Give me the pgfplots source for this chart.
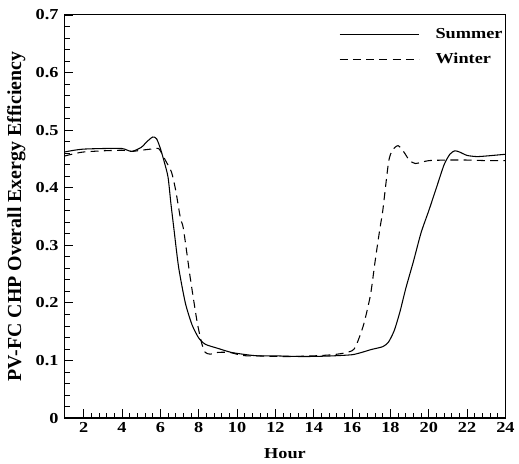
\documentclass[border=0pt]{standalone}
\usepackage{fontspec}
\setmainfont{Liberation Serif}
\newfontfamily\widefont[FakeStretch=1.2]{Liberation Serif Bold}
\usepackage{pgfplots}
\pgfplotsset{compat=1.18}

\pgfplotstableread{
h eff
1 0.462
1.5 0.465
2 0.467
3 0.468
4 0.468
4.5 0.463
5 0.470
5.3 0.480
5.6 0.488
5.8 0.485
6.0 0.468
6.2 0.445
6.4 0.418
6.55 0.372
6.7 0.330
6.95 0.262
7.3 0.200
7.65 0.162
8.0 0.139
8.35 0.128
9.0 0.121
9.7 0.114
10.5 0.110
11.1 0.108
12 0.108
13 0.107
14 0.107
15 0.108
16 0.110
16.5 0.114
17 0.119
17.6 0.124
17.9 0.132
18.2 0.152
18.5 0.185
18.8 0.225
19.2 0.272
19.6 0.322
20 0.360
20.4 0.400
20.8 0.440
21.1 0.458
21.35 0.464
21.6 0.462
22 0.456
22.5 0.454
23 0.455
24 0.458
}\summer

\pgfplotstableread{
h eff
1 0.455
1.5 0.459
2 0.462
3 0.464
4 0.465
4.5 0.463
5 0.465
5.5 0.467
5.9 0.468
6.1 0.458
6.27 0.447
6.58 0.427
6.8 0.395
7.05 0.346
7.2 0.329
7.56 0.243
7.9 0.170
8.05 0.145
8.17 0.128
8.34 0.114
8.6 0.111
9.0 0.114
9.6 0.114
10.1 0.110
10.5 0.108
11 0.108
12 0.107
13 0.107
14 0.108
15 0.110
15.6 0.113
16 0.117
16.2 0.125
16.6 0.162
16.96 0.214
17.2 0.272
17.45 0.329
17.6 0.360
17.9 0.444
18.1 0.465
18.4 0.473
18.7 0.462
19.0 0.447
19.3 0.442
19.6 0.444
20 0.447
21 0.448
22 0.448
23 0.447
24 0.447
}\winter

\begin{document}
\begin{tikzpicture}
\begin{axis}[
    name=ax,
    width=333pt, height=304.5pt,
    scale only axis,
    xmin=1, xmax=24, ymin=0, ymax=0.7,
    xtick={2,4,...,24},
    xticklabels={2,4,6,8,10,12,14,16,18,20,22,24},
    ytick={0,0.1,0.2,0.3,0.4,0.5,0.6,0.7},
    yticklabels={0,0.1,0.2,0.3,0.4,0.5,0.6,0.7},
    minor x tick num=4,
    minor y tick num=4,
    tick align=inside,
    xtick pos=bottom, ytick pos=left,
    major tick length=6.5pt, minor tick length=4pt,
    axis line style={line width=0.9pt},
    every tick/.style={black, line width=0.6pt},
    tick label style={font=\widefont\fontsize{11.5}{13}\selectfont},
    yticklabel style={xshift=-1pt},
    xlabel={Hour},
    ylabel={PV-FC CHP Overall Exergy Efficiency},
    xlabel style={font=\widefont\fontsize{11.5}{13}\selectfont,
        at={([yshift=-30.5pt]rel axis cs:0.5,0)}, anchor=base},
    ylabel style={font=\fontsize{15}{17}\selectfont\bfseries,
        at={([xshift=-36.5pt]rel axis cs:0,0.5)}, anchor=center, rotate=0},
    legend style={at={(1,1)}, anchor=north east, draw=none, fill=none,
        font=\widefont\fontsize{11.5}{13}\selectfont, inner xsep=0pt, inner ysep=8pt,
        row sep=5.5pt},
    legend cell align=left,
    legend image code/.code={\draw[#1] (0pt,0pt) -- (60pt,0pt); \path (70pt,0pt);},
]
\addplot[black, line width=0.8pt, smooth, tension=0.4] table[x=h, y=eff] {\summer};
\addlegendentry{Summer}
\addplot[black, line width=0.8pt, dash pattern=on 6pt off 4pt, smooth, tension=0.4] table[x=h, y=eff] {\winter};
\addlegendentry{Winter}
\end{axis}
\path ([shift={(-48.75pt,-31pt)}]ax.south west) rectangle ([shift={(7.5pt,11.25pt)}]ax.north east);
\end{tikzpicture}
\end{document}
